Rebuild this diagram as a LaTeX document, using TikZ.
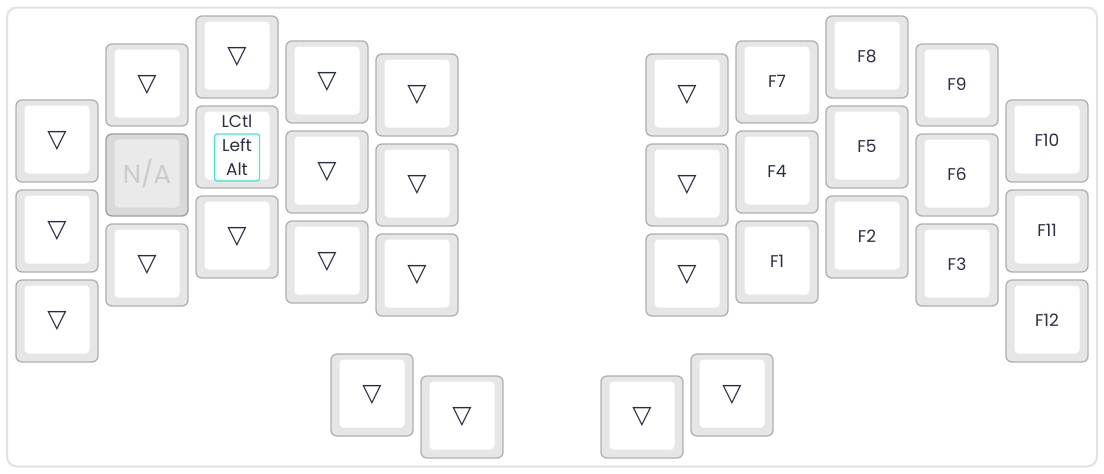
\documentclass[tikz,border=0pt]{standalone}
\usepackage{fontspec}
\setmainfont{Poppins}
\newfontfamily\symfont{DejaVu Sans}
\usepackage{tikz}
\usetikzlibrary{positioning}
\usetikzlibrary{calc}

\definecolor{boardedge}{HTML}{E2E2E2}
\definecolor{keyedge}{HTML}{B0B0B0}
\definecolor{keyside}{HTML}{E6E6E6}
\definecolor{keytext}{HTML}{2B2F45}
\definecolor{naside}{HTML}{D9D9D9}
\definecolor{naface}{HTML}{EAEAEA}
\definecolor{natext}{HTML}{CCCCCC}
\definecolor{heldbox}{HTML}{3EEAD2}

\tikzset{
    keybase/.style={draw=keyedge, fill=keyside, line width=1.3pt, rounded corners=6pt,
        minimum width=82pt, minimum height=82pt, inner sep=0pt},
    keyface/.style={fill=white, rounded corners=4pt, minimum width=65pt,
        minimum height=68pt, inner sep=0pt},
    keylabel/.style={text=keytext, align=center, inner sep=0pt,
        font=\fontsize{17}{24}\selectfont},
    trilabel/.style={keylabel, font=\symfont\fontsize{25}{28}\selectfont},
    nabase/.style={keybase, fill=naside, draw=keyedge!90!black},
    naface/.style={keyface, fill=naface},
    nalabel/.style={keylabel, text=natext, font=\fontsize{26}{30}\selectfont},
    heldlabel/.style={keylabel, draw=heldbox, line width=1.2pt, rounded corners=2.5pt,
        minimum width=45pt, minimum height=47pt},
}

% name, left edge, top edge, label
\newcommand{\keycap}[4]{%
    \node[keybase] (#1) at (#2+41,#3+41) {};
    \node[keyface] (#1f) at (#2+41,#3+39.5) {};
    \node[keylabel] (#1t) at (#2+41,#3+40.5) {#4};
}
\newcommand{\trikey}[3]{%
    \node[keybase] (#1) at (#2+41,#3+41) {};
    \node[keyface] (#1f) at (#2+41,#3+39.5) {};
    \node[trilabel] (#1t) at (#2+41,#3+41) {▽};
}

\begin{document}
\begin{tikzpicture}[x=1pt, y=-1pt]
    \useasboundingbox (0,0) rectangle (1104,474);
    \fill[white] (0,0) rectangle (1104,474);
    \node (board) [draw=boardedge, line width=2pt, fill=white, rounded corners=10pt,
        minimum width=1090pt, minimum height=459pt, inner sep=0pt] at (552,237) {};

    % left half
    \trikey{l00}{16}{100}
    \trikey{l01}{16}{190}
    \trikey{l02}{16}{280}
    \trikey{l10}{106}{44}
    \node[nabase] (l11) at (147,175) {};
    \node[naface] (l11f) at (147,173.5) {};
    \node[nalabel] (l11t) at (147,173) {N/A};
    \trikey{l12}{106}{224}
    \trikey{l20}{196}{16}
    \keycap{l21}{196}{106}{}
    \node (lctl) [keylabel] at (237,121) {LCtl};
    \node (lalt) [heldlabel] at (237,157.5) {Left\\Alt};
    \trikey{l22}{196}{196}
    \trikey{l30}{286}{41}
    \trikey{l31}{286}{131}
    \trikey{l32}{286}{221}
    \trikey{l40}{376}{54}
    \trikey{l41}{376}{144}
    \trikey{l42}{376}{234}
    \trikey{lt0}{331}{354}
    \trikey{lt1}{421}{376}

    % right half
    \trikey{r50}{646}{54}
    \trikey{r51}{646}{144}
    \trikey{r52}{646}{234}
    \keycap{r60}{736}{41}{F7}
    \keycap{r61}{736}{131}{F4}
    \keycap{r62}{736}{221}{F1}
    \keycap{r70}{826}{16}{F8}
    \keycap{r71}{826}{106}{F5}
    \keycap{r72}{826}{196}{F2}
    \keycap{r80}{916}{44}{F9}
    \keycap{r81}{916}{134}{F6}
    \keycap{r82}{916}{224}{F3}
    \keycap{r90}{1006}{100}{F10}
    \keycap{r91}{1006}{190}{F11}
    \keycap{r92}{1006}{280}{F12}
    \trikey{rt0}{601}{376}
    \trikey{rt1}{691}{354}
\end{tikzpicture}
\end{document}
